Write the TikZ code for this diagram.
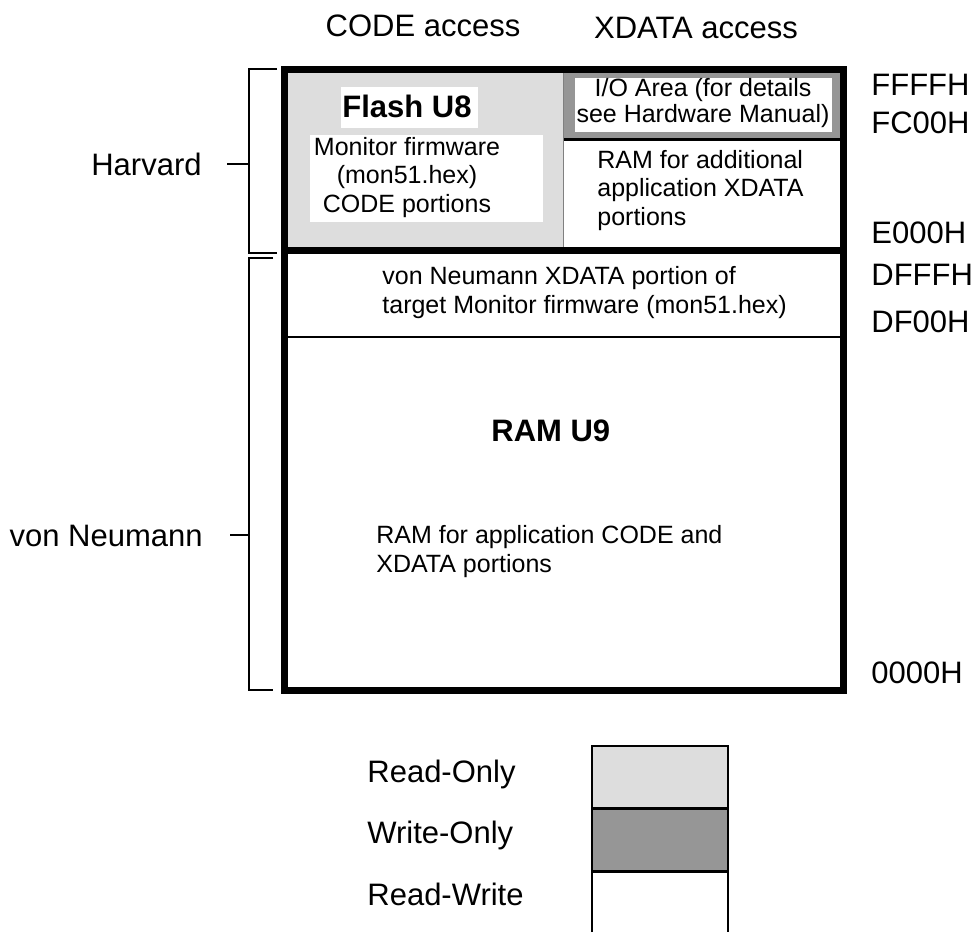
\documentclass[tikz,border=0pt]{standalone}
\usepackage{fontspec}
\setmainfont{Liberation Sans}
\definecolor{rogray}{HTML}{DDDDDD}
\definecolor{wogray}{HTML}{969696}
\tikzset{
  big/.style={font=\fontsize{15.5}{18}\selectfont,inner sep=0pt},
  bigbold/.style={font=\fontsize{15.5}{18}\selectfont\bfseries,inner sep=0pt},
  small/.style={font=\fontsize{12.5}{14.25}\selectfont,inner sep=0pt},
  tight/.style={font=\fontsize{12.5}{11}\selectfont,inner sep=0pt},
  bracket/.style={line width=1pt},
}
\begin{document}
\begin{tikzpicture}[x=0.5pt,y=-0.5pt,line join=miter]
  \useasboundingbox (0,0) rectangle (974,932);

  % Harvard part: flash (read-only) and I/O area (write-only)
  \fill[rogray] (284,69) rectangle (563,250);
  \fill[wogray] (563,69) rectangle (843,139);
  \fill[white] (575,78) rectangle (832,132);
  \draw[line width=1.5pt] (563,139) -- (843,139);
  \draw[gray,line width=0.5pt] (563,69) -- (563,250);
  \fill[white] (341,87) rectangle (478,128);
  \fill[white] (310,135) rectangle (543,222);

  % outer frame and separators
  \draw[line width=1pt] (284,337) -- (843,337);
  \draw[line width=3.5pt] (284,250.5) -- (843,250.5);
  \draw[line width=3.5pt] (284,69) rectangle (843,690);

  % column headings
  \node[big,anchor=base] (codeacc) at (423,36) {CODE access};
  \node[big,anchor=base] (xdataacc) at (696,38) {XDATA access};

  % addresses
  \foreach \addr/\y in {FFFFH/95,FC00H/133,E000H/243,DFFFH/285,DF00H/332,0000H/683}
    \node[big,anchor=base west] (a\addr) at (871,\y) {\addr};

  % brackets
  \draw[bracket] (277,69) -- (249,69) -- (249,253) -- (277,253);
  \draw[bracket] (273,258) -- (249,258) -- (249,690) -- (273,690);
  \draw[bracket] (227,164) -- (249,164);
  \draw[bracket] (230,535) -- (249,535);
  \node[big,anchor=base east] (harvard) at (202,175) {Harvard};
  \node[big,anchor=base east] (neumann) at (203,546) {von Neumann};

  % memory contents (multi-line nodes sit on their last baseline)
  \node[bigbold,anchor=base west] (flash) at (342,117) {Flash U8};
  \node[small,align=center,anchor=base] (monfw) at (407,212)
    {Monitor firmware\\(mon51.hex)\\CODE portions};
  \node[tight,align=center,anchor=base] (ioarea) at (703,122)
    {I/O Area (for details\\see Hardware Manual)};
  \node[small,align=left,anchor=base west] (addram) at (597,225)
    {RAM for additional\\application XDATA\\portions};
  \node[small,align=left,anchor=base west] (vnxdata) at (382,313)
    {von Neumann XDATA portion of\\target Monitor firmware (mon51.hex)};
  \node[bigbold,anchor=base west] (ramu9) at (491,441) {RAM U9};
  \node[small,align=left,anchor=base west] (appram) at (376,572.5)
    {RAM for application CODE and\\[0.5pt]XDATA portions};

  % legend
  \fill[rogray] (592,746) rectangle (728,808);
  \fill[wogray] (592,808) rectangle (728,871);
  \draw[line width=1.25pt] (592,932) -- (592,746) -- (728,746) -- (728,932);
  \draw[line width=1.5pt] (592,808) -- (728,808) (592,871) -- (728,871);
  \foreach \txt/\y/\n in {Read-Only/782/ro,Write-Only/843/wo,Read-Write/905/rw}
    \node[big,anchor=base west] (\n) at (367,\y) {\txt};
\end{tikzpicture}
\end{document}
